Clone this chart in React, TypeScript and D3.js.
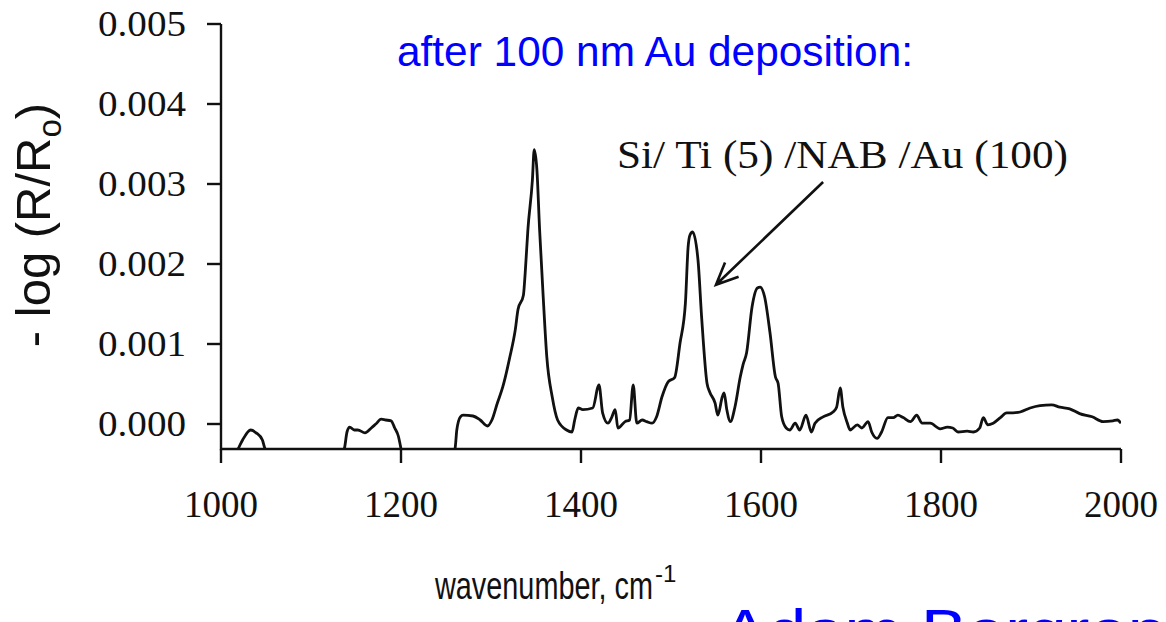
import React, { useEffect, useRef } from 'react';
import * as d3 from 'd3';

// spectrum: wavenumber (cm-1) and -log(R/Ro)
const wavenumbers = [
  1000, 1010, 1019, 1024, 1033, 1039, 1046, 1049, 1054, 1070, 1100, 1125,
  1137, 1140, 1143, 1148, 1152, 1160, 1167, 1172, 1178, 1183, 1189, 1193, 1197, 1200, 1203, 1220, 1245,
  1260, 1262, 1266, 1269, 1280, 1288, 1296, 1301, 1307, 1313, 1321, 1327, 1330, 1336, 1338, 1341,
  1346, 1348, 1351, 1354, 1358, 1362, 1368, 1374, 1384, 1390, 1393, 1397, 1402, 1413, 1420, 1424,
  1430, 1434, 1438, 1441, 1449, 1454, 1458, 1462, 1468, 1473, 1479, 1484, 1490, 1497, 1504, 1510,
  1516, 1519, 1521, 1524, 1530, 1534, 1540, 1543, 1549, 1552, 1557, 1559, 1562, 1566, 1571, 1577,
  1580, 1584, 1590, 1596, 1599, 1604, 1610, 1616, 1619, 1623, 1628, 1632, 1638, 1643, 1650, 1656,
  1660, 1669, 1680, 1684, 1688, 1691, 1696, 1699, 1707, 1712, 1719, 1723, 1729, 1734, 1741, 1747,
  1752, 1758, 1766, 1773, 1779, 1788, 1799, 1807, 1813, 1819, 1829, 1836, 1843, 1847, 1852, 1858,
  1866, 1873, 1880, 1888, 1899, 1910, 1923, 1932, 1943, 1954, 1968, 1980, 1991, 1996, 2000
];
const absorbance = [
  -0.0006, -0.0005, -0.00031, -0.0002, -0.000075, -0.00011, -0.0002, -0.00031, -0.00035, -0.0005, -0.0006, -0.0005,
  -0.00031, -0.0001, -0.00004, -0.000075, -0.000075, -0.00011, -0.00005, 0, 0.00006, 0.00005, 0.00004, -0.00005, -0.00015, -0.00031, -0.0005, -0.0007, -0.0006,
  -0.00031, -0.000075, 0.00009, 0.00011, 0.0001, 0.00005, -0.000025, 0.00005, 0.00026, 0.00046, 0.00084, 0.00118, 0.00143, 0.00161, 0.00189, 0.00243,
  0.00305, 0.00343, 0.00318, 0.00243, 0.00159, 0.00084, 0.00034, 0.00005, -0.000075, -0.0001, 0.00005, 0.0002, 0.00018, 0.0002, 0.00049, 0.00014,
  0.00001, 0.00008, 0.00018, -0.00005, 0.00003, 0.00005, 0.00049, 0.00001, 0.00005, 0.00003, 0.00001, 0.00009, 0.00034, 0.00053, 0.00058, 0.00101,
  0.00151, 0.00221, 0.00236, 0.0024, 0.00205, 0.00134, 0.00051, 0.0004, 0.00026, 0.00011, 0.00034, 0.00039, 0.00018, 0.00003, 0.00021, 0.00059,
  0.00074, 0.00089, 0.00146, 0.0017, 0.00171, 0.00159, 0.00114, 0.00059, 0.00051, 0.00009, -0.00005, -0.000075, 0.00001, -0.000075, 0.00011, -0.0001,
  0.00001, 0.00009, 0.00015, 0.00021, 0.00045, 0.00021, 0.00001, -0.000075, -0.00001, -0.00005, 0.00003, -0.0001, -0.00018, -0.0001, 0.00008, 0.00008,
  0.00011, 0.00008, 0.00003, 0.00011, 0.00001, 0.00001, -0.00006, -0.00004, -0.00005, -0.0001, -0.00009, -0.0001, -0.00005, 0.00008, -0.00001, 0.00001,
  0.00008, 0.00014, 0.00014, 0.00015, 0.0002, 0.00023, 0.00024, 0.00021, 0.00019, 0.00013, 0.00009, 0.00003, 0.00004, 0.00005, 0.00001
];
const xTicks = [1000, 1200, 1400, 1600, 1800, 2000];
const yTicks = [0, 0.001, 0.002, 0.003, 0.004, 0.005];

// arrow from the sample label down to the 1520 peak
const arrowTail = [1669, 0.003025];
const arrowHead = [1550, 0.00174];

const W = 1166;
const H = 622;
const serif = "'Liberation Serif', 'Times New Roman', serif";
const sans = "'Liberation Sans', Arial, sans-serif";

export default function App() {
  const svgRef = useRef<SVGSVGElement>(null);

  useEffect(() => {
    const svg = d3.select(svgRef.current);
    svg.selectAll('*').remove();

    const x = d3.scaleLinear().domain([1000, 2000]).range([221, 1121]);
    const y = d3.scaleLinear().domain([0, 0.005]).range([424, 24]);
    const yBottom = 449;

    svg.append('rect').attr('width', W).attr('height', H).attr('fill', '#fff');

    svg.append('clipPath').attr('id', 'plot-clip')
      .append('rect')
      .attr('x', x(1000)).attr('y', 0)
      .attr('width', x(2000) - x(1000)).attr('height', yBottom);

    // spectrum
    const pts = wavenumbers.map((w, i) => [w, absorbance[i]] as [number, number]);
    const line = d3.line<[number, number]>()
      .x(d => x(d[0]))
      .y(d => y(d[1]))
      .curve(d3.curveMonotoneX);

    svg.append('path')
      .attr('d', line(pts))
      .attr('clip-path', 'url(#plot-clip)')
      .attr('fill', 'none')
      .attr('stroke', '#111')
      .attr('stroke-width', 2.8)
      .attr('stroke-linejoin', 'round');

    // axes
    const axes = svg.append('g').attr('stroke', '#111').attr('stroke-width', 2.4).attr('fill', 'none');
    axes.append('path')
      .attr('d', `M${x(1000)},${y(0.005)}V${yBottom}H${x(2000)}`);
    xTicks.forEach(t => {
      axes.append('line')
        .attr('x1', x(t)).attr('x2', x(t))
        .attr('y1', yBottom).attr('y2', yBottom + 14);
    });
    yTicks.forEach(t => {
      axes.append('line')
        .attr('x1', x(1000) - 14).attr('x2', x(1000))
        .attr('y1', y(t)).attr('y2', y(t));
    });

    svg.selectAll('text.xtick')
      .data(xTicks)
      .enter()
      .append('text')
      .attr('class', 'xtick')
      .attr('x', d => x(d))
      .attr('y', 517)
      .attr('text-anchor', 'middle')
      .style('font-family', serif)
      .style('font-size', '37px')
      .attr('fill', '#111')
      .text(d => String(d));

    svg.selectAll('text.ytick')
      .data(yTicks)
      .enter()
      .append('text')
      .attr('class', 'ytick')
      .attr('x', 186)
      .attr('y', d => y(d) + 12)
      .attr('text-anchor', 'end')
      .attr('textLength', 88)
      .attr('lengthAdjust', 'spacingAndGlyphs')
      .style('font-family', serif)
      .style('font-size', '36px')
      .attr('fill', '#111')
      .text(d => d.toFixed(3));

    // sample label + arrow
    svg.append('text')
      .attr('x', 617).attr('y', 168)
      .attr('textLength', 451)
      .attr('lengthAdjust', 'spacingAndGlyphs')
      .style('font-family', serif)
      .style('font-size', '39px')
      .attr('fill', '#111')
      .text('Si/ Ti (5) /NAB /Au (100)');

    const x0 = x(arrowTail[0]), y0 = y(arrowTail[1]);
    const x1 = x(arrowHead[0]), y1 = y(arrowHead[1]);
    const ang = Math.atan2(y1 - y0, x1 - x0);
    const hl = 24, spread = 0.42;
    svg.append('path')
      .attr('d', `M${x0},${y0}L${x1},${y1}` +
        `M${x1 - hl * Math.cos(ang - spread)},${y1 - hl * Math.sin(ang - spread)}L${x1},${y1}` +
        `L${x1 - hl * Math.cos(ang + spread)},${y1 - hl * Math.sin(ang + spread)}`)
      .attr('fill', 'none')
      .attr('stroke', '#111')
      .attr('stroke-width', 2.6);

    // titles
    svg.append('text')
      .attr('x', 397).attr('y', 66)
      .attr('textLength', 516)
      .attr('lengthAdjust', 'spacingAndGlyphs')
      .style('font-family', sans)
      .style('font-size', '43px')
      .attr('fill', '#0000ff')
      .text('after 100 nm Au deposition:');

    const yl = svg.append('text')
      .attr('transform', 'translate(50,225) rotate(-90)')
      .attr('text-anchor', 'middle')
      .style('font-family', sans)
      .style('font-size', '49px')
      .attr('fill', '#111');
    yl.append('tspan').text('- log (R/R');
    yl.append('tspan').attr('dy', 11).style('font-size', '33px').text('o');
    yl.append('tspan').attr('dy', -11).text(')');

    const xl = svg.append('text')
      .attr('x', 435).attr('y', 599)
      .style('font-family', sans)
      .style('font-size', '39px')
      .attr('fill', '#111');
    xl.append('tspan').attr('textLength', 218).attr('lengthAdjust', 'spacingAndGlyphs').text('wavenumber, cm');
    xl.append('tspan').attr('dx', 2).attr('dy', -17).style('font-size', '24px').text('-1');

    svg.append('text')
      .attr('x', 722).attr('y', 651)
      .attr('textLength', 444)
      .attr('lengthAdjust', 'spacingAndGlyphs')
      .style('font-family', sans)
      .style('font-size', '60px')
      .attr('fill', '#0000ff')
      .text('Adam Bergren');
  }, []);

  return (
    <svg
      ref={svgRef}
      width={W}
      height={H}
      style={{ position: 'absolute', left: 0, top: 0, display: 'block' }}
    />
  );
}
